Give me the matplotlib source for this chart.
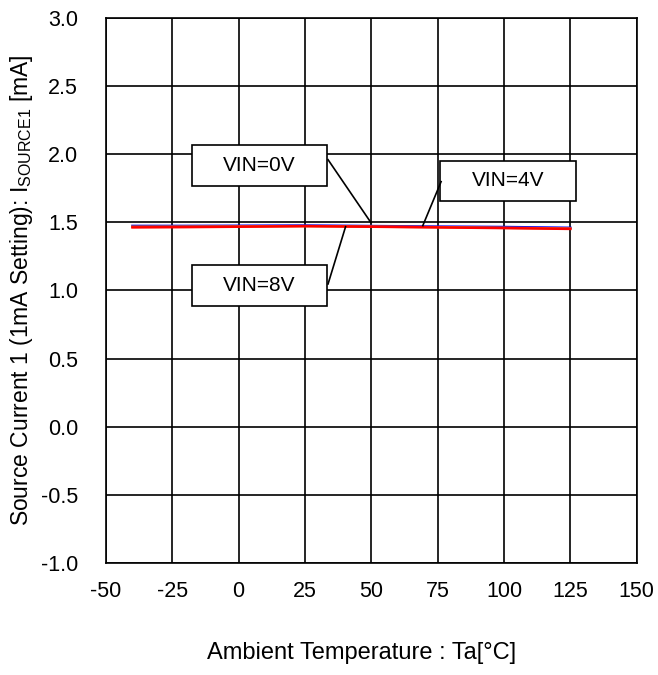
import numpy as np
import matplotlib.pyplot as plt
from matplotlib.patches import Rectangle

plt.rcParams['font.family'] = ['Liberation Sans', 'DejaVu Sans']
plt.rcParams['mathtext.fontset'] = 'custom'
plt.rcParams['mathtext.rm'] = 'Liberation Sans'
plt.rcParams['axes.unicode_minus'] = False

# measured data (Ta in degC, current in mA)
temp = [-40, -20, 0, 25, 50, 75, 100, 125]
vin0 = [1.474, 1.474, 1.475, 1.477, 1.473, 1.469, 1.466, 1.460]
vin4 = [1.468, 1.469, 1.470, 1.473, 1.469, 1.465, 1.460, 1.455]
vin8 = [1.463, 1.465, 1.468, 1.472, 1.468, 1.463, 1.458, 1.452]

x_ticks = [-50, -25, 0, 25, 50, 75, 100, 125, 150]
y_ticks = [-1.0, -0.5, 0.0, 0.5, 1.0, 1.5, 2.0, 2.5, 3.0]

fig = plt.figure(figsize=(6.58, 6.75), dpi=100)
ax = fig.add_axes([0.161, 0.166, 0.8066, 0.8073])

ax.plot(temp, vin0, color='#0000ff', lw=1.8, zorder=3)
ax.plot(temp, vin4, color='#e07020', lw=1.8, zorder=3)
ax.plot(temp, vin8, color='#ff0000', lw=1.8, zorder=4)

ax.set_xlim(-50, 150)
ax.set_ylim(-1.0, 3.0)
ax.set_xticks(x_ticks)
ax.set_yticks(y_ticks)
ax.set_yticklabels([f"{v:.1f}" for v in y_ticks])
ax.grid(True, color='black', lw=1.2)
ax.set_axisbelow(True)
ax.tick_params(length=0, labelsize=15.5, pad=20)
ax.tick_params(axis='x', pad=13)
for s in ax.spines.values():
    s.set_linewidth(1.2)

ax.set_xlabel("Ambient Temperature : Ta[°C]", fontsize=17, labelpad=29)
ax.xaxis.label.set_x(0.482)
ax.set_ylabel(r"Source Current 1 (1mA Setting): I$_{\rm SOURCE1}$ [mA]", fontsize=16.5, labelpad=4)

# label boxes with leader lines
labels = [("VIN=0V", 7.9, 1.917, 33.7, 1.960, 49.9, 1.497),
          ("VIN=4V", 101.5, 1.804, 76.3, 1.799, 69.4, 1.476),
          ("VIN=8V", 7.9, 1.036, 33.7, 1.048, 40.3, 1.468)]
bw, bh = 51.0, 0.30
for txt, cx, cy, lx, ly, px, py in labels:
    ax.add_patch(Rectangle((cx - bw / 2, cy - bh / 2), bw, bh, facecolor='white',
                           edgecolor='black', lw=1.2, zorder=5))
    ax.text(cx, cy, txt, ha='center', va='center', fontsize=15, zorder=6)
    ax.plot([lx, px], [ly, py], color='black', lw=1.2, zorder=5)

fig.savefig('out.png', dpi=100)
